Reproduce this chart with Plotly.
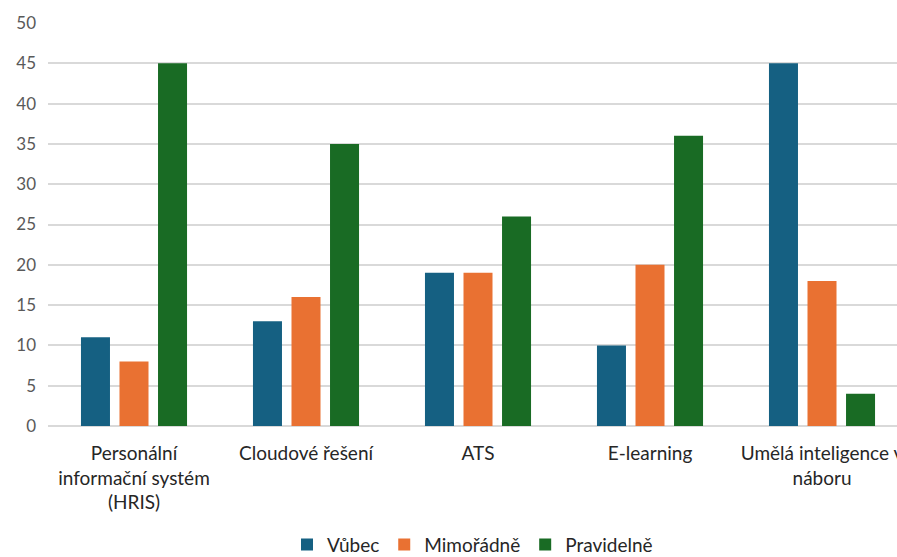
import plotly.graph_objects as go

categories = ["Personální<br>informační systém<br>(HRIS)", "Cloudové řešení", "ATS", "E-learning", "Umělá inteligence v<br>náboru"]
vubec = [11, 13, 19, 10, 45]
mimoradne = [8, 16, 19, 20, 18]
pravidelne = [45, 35, 26, 36, 4]
series_names = ["Vůbec", "Mimořádně", "Pravidelně"]
colors = ["#156082", "#E97132", "#196B24"]

fig = go.Figure()
for name, vals, col in zip(series_names, [vubec, mimoradne, pravidelne], colors):
    fig.add_trace(go.Bar(x=list(range(len(categories))), y=vals, name=name,
                         marker=dict(color=col, line=dict(width=0))))

fig.update_layout(
    width=897, height=557,
    margin=dict(l=48, r=0, t=23, b=131),
    paper_bgcolor="white", plot_bgcolor="white",
    barmode="group", bargap=0.328, bargroupgap=0.247,
    font=dict(family="Lato, Noto Sans, sans-serif", color="#404040"),
    legend=dict(orientation="h", x=0.5, xanchor="center", yref="container", y=0.022, yanchor="middle",
                font=dict(size=19, color="#262626"), itemwidth=30, traceorder="normal"),
    xaxis=dict(tickmode="array", tickvals=list(range(len(categories))), ticktext=categories,
               range=[-0.5, 4.436], showgrid=False, showline=False, zeroline=False,
               tickfont=dict(size=19, color="#262626"), ticks="", automargin=False,
               ticklabelstandoff=14, ticklabeloverflow="allow"),
    yaxis=dict(range=[0, 50], dtick=5, showgrid=True, gridcolor="#D9D9D9", gridwidth=1.5,
               zeroline=True, zerolinecolor="#D9D9D9", zerolinewidth=1.5, automargin=False,
               tickfont=dict(size=17, color="#595959"), ticks="", ticklabelstandoff=11),
    showlegend=True,
)

fig.write_html("out.html")
